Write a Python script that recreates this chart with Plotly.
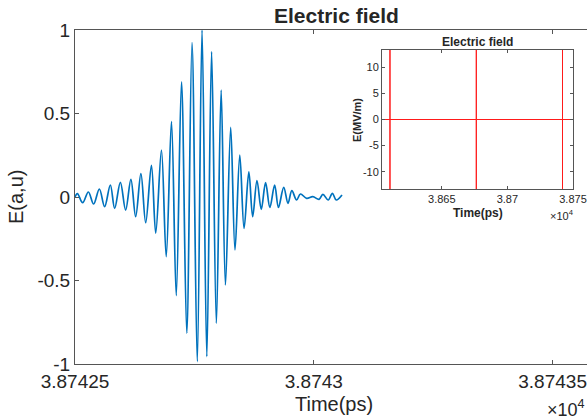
import plotly.graph_objects as go

# ---- main plot data: extrema of the pulse (time in units of 1e4 ps, field in a.u.)
t_main = [3.8742500, 3.8742505, 3.8742516, 3.8742528, 3.8742539, 3.8742551, 3.8742562,
          3.8742574, 3.8742583, 3.8742595, 3.8742606, 3.8742617, 3.8742627, 3.8742638,
          3.8742648, 3.8742660, 3.8742669, 3.8742681, 3.8742691, 3.8742702, 3.8742712,
          3.8742723, 3.8742734, 3.8742745, 3.8742756, 3.8742766, 3.8742776, 3.8742786,
          3.8742796, 3.8742806, 3.8742815, 3.8742826, 3.8742835, 3.8742845, 3.8742854,
          3.8742864, 3.8742872, 3.8742881, 3.8742890, 3.8742899, 3.8742908, 3.8742918,
          3.8742926, 3.8742937, 3.8742946, 3.8742954, 3.8742964, 3.8742972, 3.8742985,
          3.8742998, 3.8743011, 3.8743019, 3.8743030, 3.8743039, 3.8743047, 3.8743059]
e_main = [0, 0.02, -0.034, 0.03, -0.042, 0.048, -0.058, 0.072, -0.068, 0.088, -0.078,
          0.106, -0.118, 0.14, -0.154, 0.19, -0.217, 0.281, -0.357, 0.451, -0.59, 0.69,
          -0.816, 0.924, -0.986, 1.0, -0.956, 0.87, -0.756, 0.64, -0.527, 0.417, -0.317,
          0.251, -0.188, 0.15, -0.118, 0.098, -0.074, 0.086, -0.062, 0.072, -0.062, 0.058,
          -0.038, 0.038, -0.018, 0.018, -0.008, 0.002, -0.014, 0.016, -0.018, 0.022,
          -0.018, 0.012]

x_range = [3.87425, 3.8743572]
x_ticks = [3.87425, 3.8743, 3.87435]
x_tick_text = ["3.87425", "3.8743", "3.87435"]
y_ticks = [-1, -0.5, 0, 0.5, 1]
y_tick_text = ["-1", "-0.5", "0", "0.5", "1"]

# ---- inset data: pulse train (E in MV/m), peaks run far off the axis limits
inset_range = [3.860442, 3.875]
pulse_times = [3.86105, 3.86763, 3.87420]
pulse_peak = [40, 40, 40]
inset_xticks = [3.865, 3.87, 3.875]
inset_xtext = ["3.865", "3.87", "3.875"]
inset_yticks = [-10, -5, 0, 5, 10]
inset_ytext = ["-10", "-5", "0", "5", "10"]
inset_yrange = [-13.3, 13.3]

inset_t = [inset_range[0]]
inset_e = [0]
for tp, a in zip(pulse_times, pulse_peak):
    inset_t += [tp, tp, tp, tp]
    inset_e += [0, a, -a, 0]
inset_t.append(inset_range[1])
inset_e.append(0)

FONT = "Liberation Sans, Arial, Helvetica, sans-serif"
AX = "#555555"
TXT = "#262626"

W, H = 587, 417
X0, X1, Y0, Y1 = 75, 587, 30, 364
L, T, R, B = X0, Y0, W - X1, H - Y1
PW, PH = X1 - X0, Y1 - Y0


def px(x):
    return (x - X0) / PW


def py(y):
    return (Y1 - y) / PH


fig = go.Figure()
fig.add_trace(go.Scatter(x=t_main, y=e_main, mode="lines",
                         line=dict(color="#0072BD", width=1.7, shape="spline", smoothing=1.0),
                         xaxis="x", yaxis="y", showlegend=False, hoverinfo="skip"))
fig.add_trace(go.Scatter(x=inset_t, y=inset_e, mode="lines",
                         line=dict(color="#FF1A1A", width=1),
                         xaxis="x2", yaxis="y2", showlegend=False, hoverinfo="skip"))

common = dict(showline=True, linecolor=AX, linewidth=1, tickcolor=AX, ticks="inside",
              showgrid=False, zeroline=False, automargin=False)

fig.update_layout(
    template="none",
    width=W, height=H, autosize=False,
    margin=dict(l=L, r=R, t=T, b=B, pad=0),
    paper_bgcolor="white", plot_bgcolor="white",
    font=dict(family=FONT, color=TXT),
    hovermode=False,
    xaxis=dict(domain=[0, 1], range=x_range, tickvals=x_ticks, ticktext=x_tick_text,
               ticklen=4, mirror="ticks",
               tickfont=dict(size=19, color=TXT, family=FONT), **common),
    yaxis=dict(domain=[0, 1], range=[-1, 1], tickvals=y_ticks, ticktext=y_tick_text,
               ticklen=4,
               tickfont=dict(size=19, color=TXT, family=FONT), **common),
    xaxis2=dict(domain=[px(382), px(573)], anchor="y2", range=inset_range,
                tickvals=inset_xticks, ticktext=inset_xtext, ticklen=3, mirror="ticks",
                tickfont=dict(size=11, color=TXT, family=FONT), **common),
    yaxis2=dict(domain=[py(189), py(50)], anchor="x2", range=inset_yrange,
                tickvals=inset_yticks, ticktext=inset_ytext, ticklen=3, mirror="ticks",
                tickfont=dict(size=11, color=TXT, family=FONT), **common),
)

ann = [
    dict(text="<b>Electric field</b>", x=px(336), y=py(15), size=21, angle=0, xa="center"),
    dict(text="Time(ps)", x=px(334), y=py(404), size=20, angle=0, xa="center"),
    dict(text="×10<sup>4</sup>", x=px(545), y=py(409), size=18, angle=0, xa="left"),
    dict(text="E(a,u)", x=px(16), y=py(197), size=20, angle=-90, xa="center"),
    dict(text="<b>Electric field</b>", x=px(477.5), y=py(42), size=12, angle=0, xa="center"),
    dict(text="<b>Time(ps)</b>", x=px(478), y=py(213), size=12, angle=0, xa="center"),
    dict(text="×10<sup>4</sup>", x=px(548), y=py(215), size=11, angle=0, xa="left"),
    dict(text="<b>E(MV/m)</b>", x=px(357), y=py(120), size=11, angle=-90, xa="center"),
]
for a in ann:
    fig.add_annotation(text=a["text"], x=a["x"], y=a["y"], xref="paper", yref="paper",
                       showarrow=False, textangle=a["angle"], xanchor=a["xa"], yanchor="middle",
                       font=dict(size=a["size"], color=TXT, family=FONT))

fig.write_html(
    "out.html",
    config={"displayModeBar": False, "staticPlot": True},
    post_script="document.body.style.margin='0';document.body.style.overflow='hidden';"
                "document.documentElement.style.overflow='hidden';",
)
